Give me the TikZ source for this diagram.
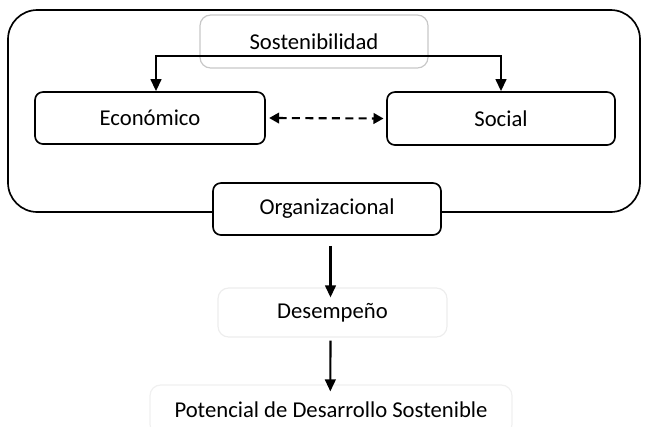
\documentclass[tikz,border=0pt]{standalone}
\usepackage{fontspec}
\setmainfont{Carlito}
\usetikzlibrary{arrows.meta}
\begin{document}
\begin{tikzpicture}[x=0.75pt,y=-0.75pt,
  every node/.style={font=\fontsize{17}{20}\selectfont},
  box/.style={draw=black, line width=1.25pt, rounded corners=6pt, fill=white, inner sep=0pt},
  faint/.style={draw=black!18, line width=0.9pt, rounded corners=8pt, inner sep=0pt},
  arr/.style={line width=1.6pt, -{Triangle[length=9pt,width=8pt]}},
  darr/.style={line width=1.6pt, dash pattern=on 6pt off 4pt, {Triangle[length=7.5pt,width=8pt]}-{Triangle[length=7.5pt,width=8pt]}}]
\useasboundingbox (0,0) rectangle (650,426);
% outer frame
\node[draw=black, line width=1.25pt, rounded corners=22pt, minimum width=474pt, minimum height=151.5pt, inner sep=0pt] (frame) at (324,111) {};
% nodes
\node[faint, draw=black!22, minimum width=171pt, minimum height=39.75pt] (sost) at (314,41.5) {Sostenibilidad};
\node[box, minimum width=172.5pt, minimum height=39pt] (eco) at (150,118) {Económico};
\node[box, minimum width=171pt, minimum height=39.75pt] (soc) at (501,118.5) {Social};
\node[box, minimum width=171pt, minimum height=39pt] (org) at (327,209) {Organizacional};
\node[faint, draw=black!7, minimum width=171.75pt, minimum height=36.75pt] (des) at (332.5,312.5) {Desempeño};
\node[faint, draw=black!6, minimum width=271.5pt, minimum height=37.5pt] (pot) at (331,410) {Potencial de Desarrollo Sostenible};
% connectors
\coordinate (split) at (314,56);
\draw[arr] (split) -| ([xshift=4.5pt]eco.north);
\draw[arr] (split) -| (soc.north);
\draw[darr] ([xshift=2.5pt]eco.east) -- ([xshift=-2pt]soc.west);
\draw[arr, shorten <=7.5pt, shorten >=-7.5pt] ([xshift=-1.5pt]org.south -| des.north) -- ([xshift=-1.5pt]des.north);
\draw[arr, shorten <=2.25pt, shorten >=-5.25pt] ([xshift=-1.5pt]des.south) -- ([xshift=-0.5pt]pot.north);
\end{tikzpicture}
\end{document}
